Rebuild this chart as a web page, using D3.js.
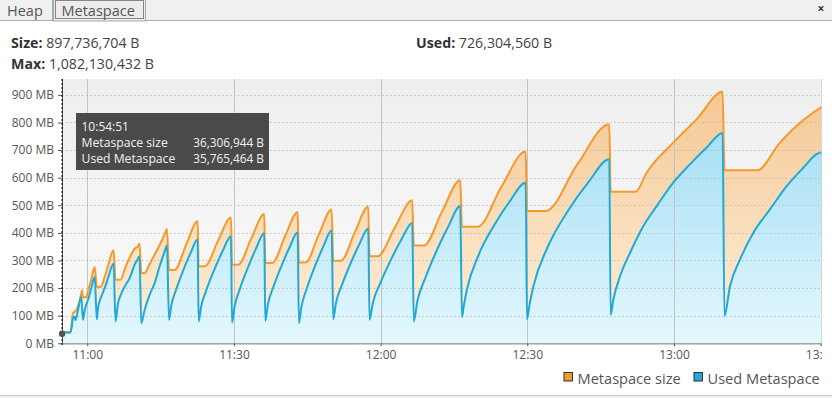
<!DOCTYPE html>
<html>
<head>
<meta charset="utf-8">
<script src="https://cdn.jsdelivr.net/npm/d3@7"></script>
<style>
  html, body { margin: 0; padding: 0; background: #fff; }
  svg { display: block; font-family: "Open Sans", "Noto Sans", sans-serif; }
</style>
</head>
<body>
<svg id="chart" width="832" height="398"></svg>
<script>
// ---------- data (MB = MiB) ----------
const sizeTime = ["10:54:51","10:55:14","10:56:36","10:57:05","10:57:25","10:57:35","10:58:00","10:58:46","10:58:55","10:59:07","10:59:48","11:00:09","11:00:49","11:01:31","11:01:57","11:02:44","11:03:33","11:04:14","11:05:22","11:05:47","11:06:50","11:07:39","11:08:40","11:09:49","11:10:10","11:10:41","11:11:03","11:11:44","11:12:46","11:13:47","11:14:48","11:15:50","11:16:18","11:16:43","11:17:53","11:20:14","11:22:35","11:22:46","11:24:04","11:26:44","11:29:24","11:29:36","11:30:53","11:33:33","11:36:12","11:36:24","11:37:50","11:40:26","11:43:02","11:43:17","11:44:40","11:47:20","11:49:59","11:50:18","11:51:53","11:54:42","11:57:28","11:57:44","11:59:24","12:02:56","12:06:28","12:06:47","12:08:52","12:12:33","12:16:17","12:16:38","12:19:51","12:24:46","12:29:40","12:29:56","12:33:45","12:40:16","12:46:46","12:47:03","12:52:10","12:54:25","12:59:51","13:04:39","13:09:57","13:10:20","13:17:02","13:21:41","13:25:06","13:28:30","13:30:12"];
const sizeMB = [34.6,40,40,111,114,116,130,180,192,167,167,190,232,276,204,204,240,280,337,230,230,268,310,345,347,362,255,255,287,322,356,395,414,266,266,358,442,279,279,371,456,285,285,380,468,291,291,387,475,293,293,393,485,299,299,401,495,315,315,420,518,354,354,477,591,422,422,569,695,479,479,649,794,549,549,618,727,812,911,627,627,727,788,836,856.1];

const usedTime = ["10:54:51","10:55:14","10:56:36","10:57:05","10:57:25","10:57:35","10:58:00","10:58:46","10:59:07","10:59:28","10:59:48","11:00:09","11:00:49","11:01:31","11:01:57","11:02:11","11:02:52","11:03:33","11:04:14","11:05:22","11:05:47","11:06:17","11:06:50","11:07:39","11:08:40","11:09:49","11:10:10","11:10:41","11:11:03","11:11:44","11:12:46","11:13:47","11:14:48","11:15:50","11:16:18","11:16:43","11:17:11","11:18:11","11:19:39","11:21:06","11:22:35","11:22:46","11:23:18","11:24:25","11:26:05","11:27:44","11:29:24","11:29:36","11:30:08","11:31:15","11:32:55","11:34:33","11:36:12","11:36:24","11:36:56","11:38:04","11:39:43","11:41:23","11:43:02","11:43:17","11:43:49","11:44:57","11:46:38","11:48:19","11:49:59","11:50:18","11:50:52","11:52:06","11:53:54","11:55:40","11:57:28","11:57:44","11:58:26","11:59:56","12:02:07","12:04:17","12:06:28","12:06:47","12:07:32","12:09:09","12:11:31","12:13:55","12:16:17","12:16:38","12:17:02","12:17:41","12:19:54","12:23:10","12:26:25","12:29:40","12:29:56","12:30:27","12:31:17","12:34:09","12:38:22","12:42:33","12:46:46","12:47:03","12:47:35","12:48:57","12:51:00","12:53:43","12:56:28","12:59:51","13:03:16","13:06:41","13:09:57","13:10:20","13:11:27","13:13:30","13:16:13","13:19:38","13:23:03","13:26:27","13:29:11","13:30:12"];
const usedMB = [34.1,39.5,39.5,91,97,84,112,169,85,119,140,157,200,240,87,127,169,200,236,288,79,145,175,206,236,290,300,315,73,121,176,218,279,333,354,85,137,195,265,326,376,79,134,196,271,336,388,75,134,199,277,345,400,82,140,204,280,348,402,73,133,201,282,352,410,87,146,212,291,360,416,85,148,218,303,377,436,79,154,237,338,426,497,95,138,197,314,426,514,582,87,139,209,348,481,585,667,103,157,242,327,424,497,582,648,709,762,99,206,303,400,485,569,636,685,692.7];

const yTicks = [0,100,200,300,400,500,600,700,800,900];
const xTickLabels = ["11:00","11:30","12:00","12:30","13:00","13:30"];
const seriesNames = ["Metaspace size","Used Metaspace"];
const seriesColors = ["#f39a2c","#1fa8d8"];
const headerStats = [["Size:","897,736,704 B"],["Max:","1,082,130,432 B"],["Used:","726,304,560 B"]];
const tooltipTime = "10:54:51";
const tooltipRows = [["Metaspace size","36,306,944 B"],["Used Metaspace","35,765,464 B"]];
const tabs = ["Heap","Metaspace"];

// ---------- setup ----------
const parse = d3.timeParse("%H:%M:%S");
const sizeData = sizeTime.map((t,i)=>({t:parse(t), v:sizeMB[i]}));
const usedData = usedTime.map((t,i)=>({t:parse(t), v:usedMB[i]}));

const svg = d3.select("#chart");
const L = 62, R = 821.6, T = 79, B = 343.3;

const x = d3.scaleTime().domain([parse("10:54:51"), parse("13:30:12")]).range([62.1, R]);
const y = d3.scaleLinear().domain([0, 957.5]).range([B, T]);

const defs = svg.append("defs");
function grad(id, stops) {
  const g = defs.append("linearGradient").attr("id", id)
    .attr("gradientUnits","userSpaceOnUse").attr("x1",0).attr("x2",0).attr("y1",T).attr("y2",B);
  stops.forEach(s => g.append("stop").attr("offset", s[0]).attr("stop-color", s[1]));
}
grad("bgGrad", [[0,"#eeeeee"],[1,"#fbfbfb"]]);
grad("orGrad", [[0,"#f4c690"],[1,"#fef1de"]]);
grad("blGrad", [[0,"#96d9f2"],[1,"#e4f8fe"]]);
defs.append("clipPath").attr("id","clipAll").append("rect").attr("x",0).attr("y",0).attr("width",822).attr("height",398);
defs.append("clipPath").attr("id","clipPlot").append("rect").attr("x",L).attr("y",T).attr("width",R-L).attr("height",B-T);

// ---------- tab bar ----------
svg.append("rect").attr("x",0).attr("y",0).attr("width",832).attr("height",21).attr("fill","#f0f0f0");
svg.append("line").attr("x1",0).attr("x2",832).attr("y1",20.5).attr("y2",20.5).attr("stroke","#a9a9a9");
svg.append("rect").attr("x",-1).attr("y",-1).attr("width",53.5).attr("height",21.5).attr("fill","#f0f0f0").attr("stroke","#a9a9a9");
svg.append("rect").attr("x",53.5).attr("y",-1).attr("width",92).attr("height",22).attr("fill","#ececec").attr("stroke","#a9a9a9");
svg.append("rect").attr("x",55.5).attr("y",0.5).attr("width",88).attr("height",18).attr("fill","none")
   .attr("stroke","#222").attr("stroke-dasharray","1,1");
svg.append("text").attr("x",7).attr("y",15.5).attr("font-size",14.5).attr("fill","#555").text(tabs[0]);
svg.append("text").attr("x",61.5).attr("y",15.5).attr("font-size",14.5).attr("fill","#555").text(tabs[1]);
svg.append("text").attr("x",821).attr("y",13).attr("text-anchor","middle").attr("font-size",12).attr("font-weight","bold").attr("fill","#333").text("×");

// ---------- header stats ----------
const hdrPos = [[11,48],[11,69],[416,48]];
headerStats.forEach((h,i)=>{
  const t = svg.append("text").attr("x",hdrPos[i][0]).attr("y",hdrPos[i][1]).attr("font-size",14.2).attr("fill","#444");
  t.append("tspan").attr("font-weight","bold").attr("fill","#333").text(h[0]);
  t.append("tspan").text(" " + h[1]);
});

// ---------- plot ----------
svg.append("rect").attr("x",L).attr("y",T).attr("width",R-L).attr("height",B-T).attr("fill","url(#bgGrad)");

const plot = svg.append("g").attr("clip-path","url(#clipPlot)");
const curve = d3.curveMonotoneX;
const areaGen = d3.area().curve(curve).x(d=>x(d.t)).y0(y(0)).y1(d=>y(d.v));
const lineGen = d3.line().curve(curve).x(d=>x(d.t)).y(d=>y(d.v));

plot.append("path").datum(sizeData).attr("d",areaGen).attr("fill","url(#orGrad)");
plot.append("path").datum(usedData).attr("d",areaGen).attr("fill","url(#blGrad)");

// grid
const xTicks = xTickLabels.map(s=>parse(s+":00"));
plot.selectAll(".vg").data(xTicks).join("line")
  .attr("x1",d=>Math.round(x(d))+0.5).attr("x2",d=>Math.round(x(d))+0.5)
  .attr("y1",T).attr("y2",B).attr("stroke","#c4c4c4").attr("stroke-width",1);
plot.selectAll(".hg").data(yTicks.slice(1)).join("line")
  .attr("x1",L).attr("x2",R).attr("y1",d=>Math.round(y(d))+0.5).attr("y2",d=>Math.round(y(d))+0.5)
  .attr("stroke","#bdbdbd").attr("stroke-dasharray","1.5,2.5");

plot.append("path").datum(sizeData).attr("d",lineGen).attr("fill","none")
  .attr("stroke",seriesColors[0]).attr("stroke-width",2).attr("stroke-linejoin","round");
plot.append("path").datum(usedData).attr("d",lineGen).attr("fill","none")
  .attr("stroke",seriesColors[1]).attr("stroke-width",2).attr("stroke-linejoin","round");

// axes
const gx = svg.append("g").attr("transform",`translate(0,${B})`).attr("clip-path","url(#clipAll)")
  .call(d3.axisBottom(x).tickValues(xTicks).tickFormat(d3.timeFormat("%H:%M")).tickSizeInner(3).tickSizeOuter(0).tickPadding(4));
gx.select(".domain").attr("stroke","#555").attr("d",`M${L},0.5H${R}`);
gx.selectAll(".tick line").attr("stroke","#555");
gx.selectAll(".tick text").attr("font-size",12).attr("fill","#555").attr("font-family","'Open Sans', sans-serif");

const gy = svg.append("g").attr("transform",`translate(${L},0)`)
  .call(d3.axisLeft(y).tickValues(yTicks).tickFormat(d=>d+" MB").tickSizeInner(4).tickSizeOuter(0).tickPadding(4));
gy.select(".domain").attr("stroke","#555").attr("d",`M0.5,${T}V${B}`);
gy.selectAll(".tick line").attr("stroke","#555");
gy.selectAll(".tick text").attr("font-size",12).attr("fill","#555").attr("font-family","'Open Sans', sans-serif");

// crosshair + marker
const cx = x(parse(tooltipTime));
svg.append("line").attr("x1",cx).attr("x2",cx).attr("y1",T).attr("y2",B+2)
  .attr("stroke","#111").attr("stroke-width",1.2).attr("stroke-dasharray","2,2");
svg.append("circle").attr("cx",cx).attr("cy",y(sizeData[0].v)).attr("r",3.2).attr("fill","#555");

// tooltip
const tip = svg.append("g");
tip.append("rect").attr("x",76).attr("y",113).attr("width",193).attr("height",57).attr("fill","#4a4a4a");
tip.append("text").attr("x",81.5).attr("y",130.5).attr("font-size",12).attr("fill","#f2f2f2").text(tooltipTime);
tooltipRows.forEach((r,i)=>{
  tip.append("text").attr("x",81.5).attr("y",147+i*16).attr("font-size",12.2).attr("fill","#f2f2f2").text(r[0]);
  tip.append("text").attr("x",264).attr("y",147+i*16).attr("font-size",11.8).attr("fill","#f2f2f2").attr("text-anchor","end").text(r[1]);
});

// legend
const legX = [563.5, 693.5];
seriesNames.forEach((n,i)=>{
  svg.append("rect").attr("x",legX[i]+0.5).attr("y",372.5).attr("width",8.5).attr("height",8.5)
    .attr("fill",seriesColors[i]).attr("stroke","#333");
  svg.append("text").attr("x",legX[i]+14).attr("y",384).attr("font-size",14.6).attr("fill","#555").text(n);
});

// bottom strip
svg.append("rect").attr("x",0).attr("y",395).attr("width",832).attr("height",3).attr("fill","#f0f0f0");
svg.append("line").attr("x1",0).attr("x2",832).attr("y1",395.5).attr("y2",395.5).attr("stroke","#cfcfcf");
</script>
</body>
</html>
